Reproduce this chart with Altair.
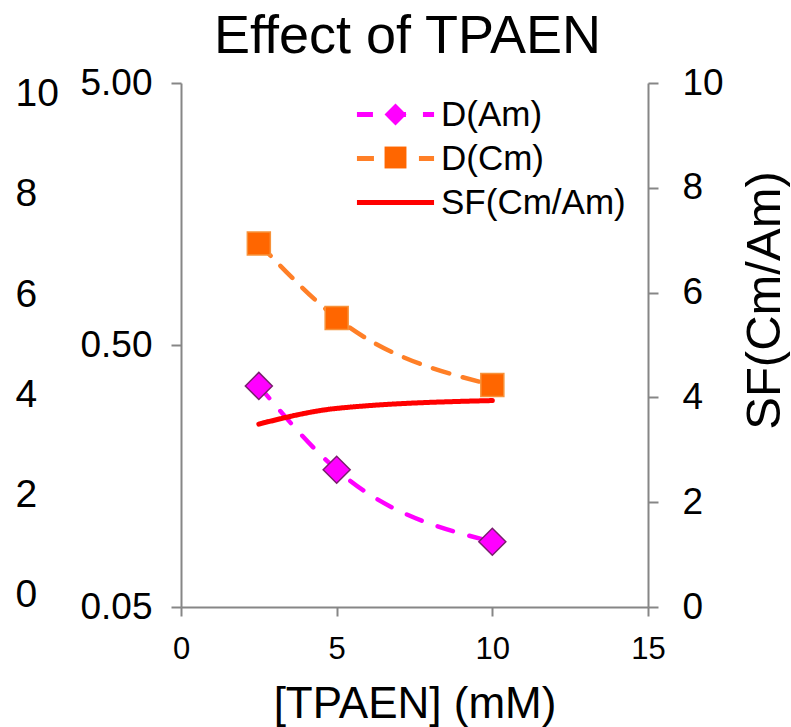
import altair as alt
import pandas as pd

# ---- data ----
conc = [2.5, 5, 10]
d_am = [0.349, 0.167, 0.0887]
d_cm = [1.22, 0.634, 0.352]
sf = [3.49, 3.79, 3.94]

series_names = ["D(Am)", "D(Cm)", "SF(Cm/Am)"]
x_ticks = [0, 5, 10, 15]
log_ticks = [0.05, 0.5, 5]
sf_ticks = [0, 2, 4, 6, 8, 10]
outer_ticks = [0, 2, 4, 6, 8, 10]

FONT = "Liberation Sans"

d_rows = []
for name, vals in (("D(Am)", d_am), ("D(Cm)", d_cm)):
    for c, v in zip(conc, vals):
        d_rows.append({"conc": c, "value": v, "series": name})
d_df = pd.DataFrame(d_rows)
am_df = pd.DataFrame({"conc": conc, "value": d_am, "am": ["D(Am)"] * len(conc)})
cm_df = pd.DataFrame({"conc": conc, "value": d_cm, "cm": ["D(Cm)"] * len(conc)})
sf_df = pd.DataFrame({"conc": conc, "value": sf, "series": ["SF(Cm/Am)"] * len(conc)})
outer_df = pd.DataFrame({"v": outer_ticks})

color_scale = alt.Scale(domain=series_names, range=["#FF00FF", "#FF7F27", "#FF0000"])
dash_scale = alt.Scale(domain=series_names, range=[[16, 17], [17, 14], [1, 0]])
log_scale = alt.Scale(type="log", domain=[0.05, 5], nice=False)

line_legend = alt.Legend(
    title=None, orient="none", legendX=197, legendY=14,
    symbolType="M-2.57,0H2.57", symbolSize=900, symbolStrokeWidth=5,
    labelFont=FONT, labelFontSize=35, labelColor="black", labelOffset=28, labelLimit=400,
    rowPadding=8, padding=0,
)


def marker_legend(y, fill, stroke):
    return alt.Legend(
        title=None, orient="none", legendX=197, legendY=y,
        symbolSize=480, symbolStrokeWidth=1.5, symbolFillColor=fill, symbolStrokeColor=stroke,
        symbolOpacity=1, labelExpr="''",
        labelFont=FONT, labelFontSize=35, labelColor="transparent", labelOffset=28,
        padding=0,
    )


x_enc = alt.X(
    "conc:Q",
    scale=alt.Scale(domain=[0, 15], nice=False),
    axis=alt.Axis(values=x_ticks, title="[TPAEN] (mM)", labelFontSize=31, tickSize=9,
                  labelPadding=18, titleFontSize=44, titlePadding=18, labelFlush=False,
                  labelOverlap=False),
)

y_log = alt.Y(
    "value:Q",
    scale=log_scale,
    axis=alt.Axis(values=log_ticks, format=".2f", title=None, labelFontSize=37, tickSize=10,
                  labelPadding=19, labelOverlap=False, labelFlush=False),
)

d_lines = alt.Chart(d_df).mark_line(strokeWidth=4.5, interpolate="monotone", strokeCap="round").encode(
    x=x_enc,
    y=y_log,
    color=alt.Color("series:N", scale=color_scale, legend=line_legend),
    strokeDash=alt.StrokeDash("series:N", scale=dash_scale, legend=line_legend),
)

am_points = alt.Chart(am_df).mark_point(
    filled=True, opacity=1, strokeWidth=1.5, fill="#FF00FF", stroke="#7a1f6e", size=729
).encode(
    x=alt.X("conc:Q"),
    y=alt.Y("value:Q", scale=log_scale, axis=None),
    shape=alt.Shape("am:N", scale=alt.Scale(domain=["D(Am)"], range=["diamond"]),
                    legend=marker_legend(14, "#FF00FF", "#7a1f6e")),
)

cm_points = alt.Chart(cm_df).mark_point(
    filled=True, opacity=1, strokeWidth=1.5, fill="#FF6600", stroke="#F7923A", size=529
).encode(
    x=alt.X("conc:Q"),
    y=alt.Y("value:Q", scale=log_scale, axis=None),
    shape=alt.Shape("cm:N", scale=alt.Scale(domain=["D(Cm)"], range=["square"]),
                    legend=marker_legend(57, "#FF6600", "#F7923A")),
)

sf_line = alt.Chart(sf_df).mark_line(strokeWidth=5, interpolate="monotone", strokeCap="round").encode(
    x=alt.X("conc:Q"),
    y=alt.Y(
        "value:Q",
        scale=alt.Scale(domain=[0, 10], nice=False),
        axis=alt.Axis(orient="right", values=sf_ticks, title="SF(Cm/Am)", labelFontSize=37,
                      tickSize=10, labelPadding=24, titleFontSize=49, titleAngle=270,
                      titleX=116, titleY=217, titleAlign="center", titleBaseline="middle",
                      labelOverlap=False, labelFlush=False),
    ),
    color=alt.Color("series:N", scale=color_scale, legend=line_legend),
    strokeDash=alt.StrokeDash("series:N", scale=dash_scale, legend=line_legend),
)

outer = alt.Chart(outer_df).mark_point(opacity=0).encode(
    y=alt.Y(
        "v:Q",
        scale=alt.Scale(domain=[-0.24, 10.21], nice=False, zero=False),
        axis=alt.Axis(orient="left", offset=166, values=outer_ticks, domain=False, ticks=False,
                      tickSize=0, labelAlign="left", labelPadding=0, labelFontSize=39, title=None,
                      labelOverlap=False, labelFlush=False),
    )
)

chart = (
    alt.layer(d_lines, sf_line, am_points, cm_points, outer)
    .resolve_scale(y="independent", shape="independent")
    .resolve_legend(shape="independent")
    .properties(
        width=467,
        height=524,
        title=alt.TitleParams("Effect of TPAEN", font=FONT, fontSize=54, fontWeight="normal",
                              color="black", anchor="middle", offset=0, dx=-7),
        autosize=alt.AutoSizeParams(type="none"),
        padding={"left": 181, "top": 83, "right": 143, "bottom": 120},
    )
    .configure_view(stroke=None)
    .configure_axis(
        domainColor="#868686", domainWidth=2, tickColor="#868686", tickWidth=2,
        labelFont=FONT, titleFont=FONT, labelColor="black", titleColor="black",
        titleFontWeight="normal", grid=False,
    )
)

chart.save("out.html", embed_options={"renderer": "svg", "actions": False})
